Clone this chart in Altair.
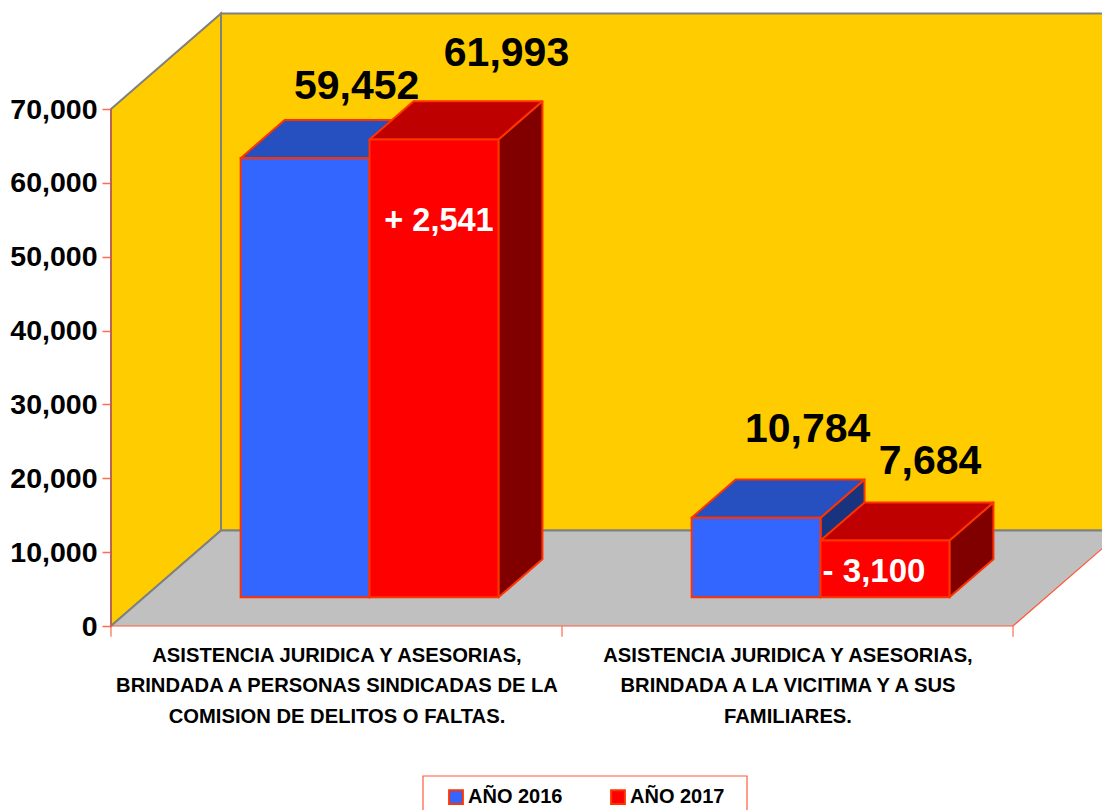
import json
import altair as alt
import pandas as pd

categories = [
    ["ASISTENCIA JURIDICA Y ASESORIAS,", "BRINDADA A PERSONAS SINDICADAS DE LA", "COMISION DE DELITOS O FALTAS."],
    ["ASISTENCIA JURIDICA Y ASESORIAS,", "BRINDADA A LA VICITIMA Y A SUS", "FAMILIARES."],
]
series = ["AÑO 2016", "AÑO 2017"]
values_2016 = [59452, 10784]
values_2017 = [61993, 7684]
differences = ["+ 2,541", "- 3,100"]
y_ticks = [0, 10000, 20000, 30000, 40000, 50000, 60000, 70000]

FONT = "Liberation Sans"
EDGE = "#FF3300"
PX_PER_U, PX_PER_V = 451, 517 / 70000
DX = 110 / PX_PER_U
DV = 95.5 / PX_PER_V
D0, D1 = 0.3, 0.7
GAP, BAR = 0.2143, 0.2858
W, H = 991, 612

xs = alt.Scale(domain=[0, W / PX_PER_U], range=[0, W], nice=False, zero=False)
ys = alt.Scale(domain=[0, H / PX_PER_V], range=[H, 0], nice=False, zero=False)
label_expr = "datum.value < 1 ? " + json.dumps(categories[0], ensure_ascii=False) + " : " + json.dumps(categories[1], ensure_ascii=False)
x_axis = alt.Axis(values=[0.5, 1.5], title=None, grid=False, domain=False, ticks=False, labelExpr=label_expr,
                  labelFont=FONT, labelFontWeight="bold", labelFontSize=20.2, labelColor="black", labelPadding=19,
                  labelLimit=700, labelOverlap=False, labelLineHeight=30.5, labelAngle=0)
y_axis = alt.Axis(values=y_ticks, title=None, grid=False, domain=False, format=",.0f", tickColor="#FF6A50", tickSize=9,
                  tickWidth=1.5, labelFont=FONT, labelFontWeight="bold", labelFontSize=28.5, labelColor="black",
                  labelPadding=5, labelOverlap=False, labelFlush=False)
X = alt.X("x:Q", scale=xs, axis=x_axis)
Y = alt.Y("y:Q", scale=ys, axis=y_axis, stack=None)


def P(u, d, v=0):
    return {"x": u + d * DX, "y": v + d * DV}


def area_v(rows, **kw):
    return alt.Chart(pd.DataFrame(rows)).mark_area(**kw).encode(X, Y, alt.Y2("y2:Q"), detail="g:N")


def area_h(rows, **kw):
    return alt.Chart(pd.DataFrame(rows)).mark_area(orient="horizontal", **kw).encode(X, alt.X2("x2:Q"), Y, detail="g:N")


def line(pts, **kw):
    df = pd.DataFrame(pts)
    df["o"] = range(len(df))
    return alt.Chart(df).mark_line(**kw).encode(X, Y, order="o:Q")


# walls and floor
top = y_ticks[-1]
wall_stroke = dict(stroke="#808080", strokeWidth=2)
side_wall = area_v([
    {"g": 0, **P(0, 0, top), "y2": P(0, 0)["y"]},
    {"g": 0, **P(0, 1, top), "y2": P(0, 1)["y"]},
], color="#FFCC00", **wall_stroke)
back_wall = area_v([
    {"g": 0, **P(0, 1, top), "y2": P(0, 1)["y"]},
    {"g": 0, **P(2, 1, top), "y2": P(2, 1)["y"]},
], color="#FFCC00", **wall_stroke)
floor = area_h([
    {"g": 0, "x": P(0, 0)["x"], "x2": P(2, 0)["x"], "y": P(0, 0)["y"]},
    {"g": 0, "x": P(0, 1)["x"], "x2": P(2, 1)["x"], "y": P(0, 1)["y"]},
], color="#C0C0C0")
floor_back = line([P(0, 0), P(0, 1), P(2, 1)], color="#808080", strokeWidth=2)
floor_front = line([P(0, 0), P(2, 0), P(2, 1)], color="#FF5A3C", strokeWidth=1.2)
axis_rule = line([{"x": 0, "y": 0}, {"x": 0, "y": top}], color="#BC6454", strokeWidth=2)
x_ticks = alt.Chart(pd.DataFrame({"x": [0, 1, 2], "y": [0, 0, 0], "y2": [-1450, -1450, -1450]})).mark_rule(
    color="#FF6A50", strokeWidth=1.2).encode(X, Y, alt.Y2("y2:Q"))

# frame of the legend: runs past the bottom edge of the picture, as in the reference
legend_frame = alt.Chart(pd.DataFrame([{
    "x": (423 - 111) / PX_PER_U, "x2": (747 - 111) / PX_PER_U,
    "y": (626 - 776) / PX_PER_V, "y2": (626 - 830) / PX_PER_V,
}])).mark_rect(fill="white", stroke="#FF5A3C", strokeWidth=1.2).encode(X, alt.X2("x2:Q"), Y, alt.Y2("y2:Q"))


def bar_layers(values, offset, name, top_col, side_col):
    sides, tops, fronts = [], [], []
    for i, v in enumerate(values):
        u0 = i + GAP + offset * BAR
        u1 = u0 + BAR
        sides += [{"g": i, **P(u1, D0, v), "y2": P(u1, D0)["y"]}, {"g": i, **P(u1, D1, v), "y2": P(u1, D1)["y"]}]
        tops += [{"g": i, "x": P(u0, D0)["x"], "x2": P(u1, D0)["x"], "y": P(u0, D0, v)["y"]},
                 {"g": i, "x": P(u0, D1)["x"], "x2": P(u1, D1)["x"], "y": P(u0, D1, v)["y"]}]
        fronts.append({"serie": name, "x": P(u0, D0)["x"], "x2": P(u1, D0)["x"], "y": P(u0, D0, v)["y"], "y2": P(u0, D0)["y"]})
    side = area_v(sides, color=side_col, stroke=EDGE, strokeWidth=2, strokeJoin="round")
    roof = area_h(tops, color=top_col, stroke=EDGE, strokeWidth=2, strokeJoin="round")
    front = alt.Chart(pd.DataFrame(fronts)).mark_rect(stroke=EDGE, strokeWidth=2).encode(
        X, alt.X2("x2:Q"), Y, alt.Y2("y2:Q"),
        color=alt.Color("serie:N", scale=alt.Scale(domain=series, range=["#3366FF", "#FF0000"]),
                        legend=alt.Legend(title=None, orient="none", legendX=335, legendY=773, direction="horizontal",
                                          columns=2, symbolType="square", symbolSize=190, symbolStrokeColor=EDGE,
                                          symbolStrokeWidth=2, symbolOpacity=1, padding=0, labelFont=FONT,
                                          labelFontWeight="bold", labelFontSize=20, labelColor="black",
                                          columnPadding=44, labelOffset=2)))
    return [side, roof, front]


def label(u, d, v, text, dx, dy, color="black", size=41):
    df = pd.DataFrame([{**P(u, d, v), "t": text}])
    return alt.Chart(df).mark_text(font=FONT, fontWeight="bold", fontSize=size, color=color, dx=dx, dy=dy,
                                   baseline="alphabetic", align="center").encode(X, Y, text="t:N")


def centre(i, off):
    return i + GAP + off * BAR + BAR / 2


labels = [
    label(centre(0, 0), D1, values_2016[0], f"{values_2016[0]:,}", 7.5, -21.5),
    label(centre(0, 1), D1, values_2017[0], f"{values_2017[0]:,}", 28.5, -35),
    label(centre(1, 0), D1, values_2016[1], f"{values_2016[1]:,}", 7.5, -38),
    label(centre(1, 1), D1, values_2017[1], f"{values_2017[1]:,}", 1, -28),
    label(centre(0, 1), D0, values_2017[0], differences[0], 5, 92, "white", 32.5),
    label(centre(1, 1), D0, values_2017[1], differences[1], -11, 41, "white", 33),
]

chart = alt.layer(
    back_wall, side_wall, floor, floor_back, floor_front, axis_rule, x_ticks, legend_frame,
    *bar_layers(values_2016, 0, series[0], "#264FBF", "#1A337F"),
    *bar_layers(values_2017, 1, series[1], "#BF0000", "#800000"),
    *labels,
).properties(
    width=W, height=H, background="white",
    padding={"left": 103, "top": 6, "right": 0, "bottom": 184},
    autosize=alt.AutoSizeParams(type="none", contains="content"),
).configure_view(stroke=None)

chart.save("out.html", embed_options={"renderer": "svg", "actions": False})
